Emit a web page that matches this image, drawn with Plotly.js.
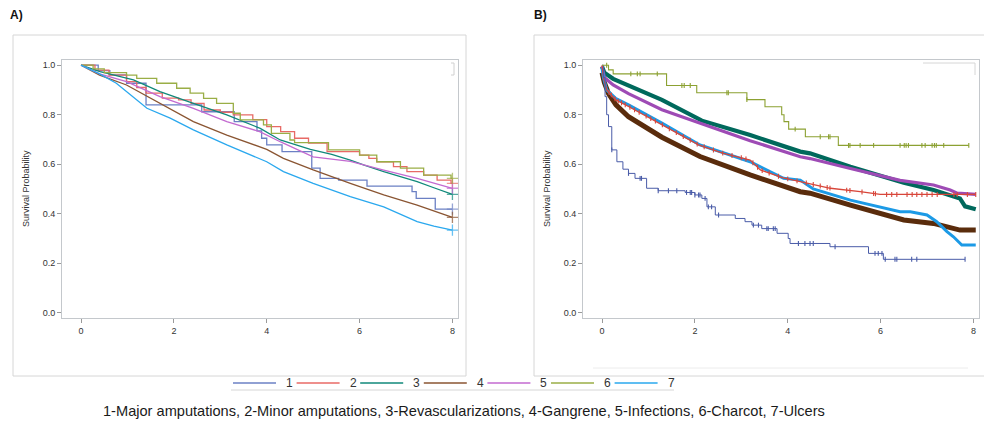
<!DOCTYPE html>
<html><head><meta charset="utf-8">
<script src="https://cdn.plot.ly/plotly-3.0.1.min.js"></script>
<style>html,body{margin:0;padding:0;background:#fff}#chart{width:984px;height:424px}</style>
</head><body><div id="chart"></div>
<script>
// ---------- labels ----------
const groupLabels = ['1','2','3','4','5','6','7'];
const captionText = '1-Major amputations, 2-Minor amputations, 3-Revascularizations, 4-Gangrene, 5-Infections, 6-Charcot, 7-Ulcers';
const panelLabels = ['A)','B)'];
const yAxisLabel = 'Survival Probability';
const xTicks = [0,2,4,6,8];
const yTicks = [0,0.2,0.4,0.6,0.8,1.0];

// ---------- Panel A data (time, survival) ----------
const A1_t = [0,0.37,0.62,0.98,1.40,2.60,3.30,3.79,3.89,4.0,4.33,4.97,5.15,5.55,6.16,7.13,7.22,7.63,8.0];
const A1_s = [1.0,0.978,0.961,0.927,0.84,0.812,0.772,0.735,0.705,0.678,0.651,0.584,0.543,0.536,0.512,0.489,0.462,0.419,0.419];
const A2_t = [0,0.3,0.6,0.98,1.2,1.4,1.75,2.1,2.37,2.65,3.0,3.28,3.7,4.0,4.3,4.6,4.9,5.3,6.0,6.2,6.37,6.73,7.02,7.38,7.67,7.97,8.0];
const A2_s = [1.0,0.98,0.96,0.934,0.91,0.887,0.867,0.86,0.846,0.819,0.81,0.799,0.78,0.752,0.732,0.705,0.685,0.651,0.637,0.624,0.61,0.59,0.57,0.556,0.536,0.523,0.523];
const A3_t = [0,0.41,1.13,1.7,2.42,3.14,3.86,4.29,4.94,5.4,5.8,6.1,6.52,7.24,7.6,8.0];
const A3_s = [1,0.974,0.941,0.893,0.846,0.799,0.745,0.698,0.66,0.64,0.617,0.596,0.57,0.53,0.505,0.478];
const A4_t = [0,0.4,0.98,1.7,2.42,3.14,3.7,4.0,4.36,5.0,5.8,6.52,7.24,8.0];
const A4_s = [1,0.96,0.92,0.846,0.772,0.718,0.68,0.66,0.624,0.577,0.523,0.476,0.435,0.385];
const A5_t = [0,0.4,0.98,1.7,2.42,3.14,3.86,4.3,5.0,5.8,6.5,7.24,8.0];
const A5_s = [1,0.965,0.934,0.873,0.826,0.772,0.731,0.69,0.63,0.612,0.577,0.543,0.503];
const A6_t = [0,0.26,0.5,0.98,1.2,1.63,2.06,2.35,2.64,2.92,3.28,3.43,3.93,4.1,4.5,4.6,5.33,6.0,6.37,6.88,7.38,7.97,8.0];
const A6_s = [1,0.985,0.97,0.96,0.947,0.927,0.907,0.887,0.866,0.846,0.806,0.779,0.759,0.725,0.698,0.687,0.658,0.637,0.61,0.584,0.556,0.543,0.543];
const A7_t = [0,0.4,0.76,0.98,1.42,1.92,2.42,3.14,3.64,4.0,4.36,5.0,5.8,6.52,7.24,7.6,8.0];
const A7_s = [1,0.965,0.927,0.893,0.826,0.786,0.739,0.678,0.64,0.61,0.57,0.523,0.469,0.428,0.368,0.35,0.334];

// ---------- Panel B data (time, survival, censor times) ----------
const B1_t = [0,0.03,0.065,0.1,0.14,0.21,0.32,0.45,0.57,0.71,0.96,1.21,1.79,2.0,2.15,2.26,2.44,2.87,3.08,3.23,3.44,3.77,4.01,4.05,4.91,5.74,6.06,7.82];
const B1_s = [1,0.95,0.873,0.80,0.752,0.658,0.61,0.58,0.563,0.543,0.503,0.493,0.486,0.476,0.462,0.428,0.395,0.381,0.368,0.354,0.34,0.321,0.30,0.28,0.267,0.24,0.216,0.216];
const B1_cens = [0.21,0.57,0.82,0.85,1.21,1.43,1.61,1.82,1.90,1.93,2.0,2.08,2.11,2.22,2.29,2.36,2.51,3.26,3.37,3.55,3.58,3.69,3.73,4.23,4.37,4.48,4.55,5.02,5.88,5.95,6.03,6.10,6.31,6.35,6.67,6.78,7.82];
const B2_t = [0,0.03,0.1,0.3,0.57,1.29,2.08,2.6,3.19,3.41,3.9,4.27,4.92,5.56,5.99,8.05];
const B2_s = [1,0.95,0.9,0.86,0.833,0.76,0.678,0.645,0.617,0.577,0.545,0.53,0.503,0.489,0.478,0.478];
const B2_cens = [0.15,0.2,0.28,0.35,0.42,0.5,0.6,0.7,0.8,0.95,1.05,1.15,1.3,1.45,1.6,1.75,1.9,2.05,2.2,2.4,2.6,2.8,3.0,3.1,3.25,3.35,3.45,3.6,3.8,4.0,4.2,4.4,4.55,4.7,4.85,4.91,5.27,5.34,5.6,5.85,5.89,6.13,6.24,6.35,6.57,6.68,6.78,6.89,7.0,7.11,7.22,7.58,7.65,7.87,8.05];
const B3_t = [0,0.05,0.24,0.57,1.29,2.15,3.19,4.27,4.48,5.35,6.5,7.14,7.5,7.71,7.82,8.05];
const B3_s = [0.995,0.97,0.945,0.918,0.86,0.776,0.718,0.651,0.644,0.59,0.525,0.496,0.476,0.462,0.43,0.418];
const B4_t = [0,0.05,0.14,0.3,0.57,1.29,2.11,3.19,4.27,4.48,5.35,6.5,7.14,7.5,7.71,8.05];
const B4_s = [0.97,0.93,0.885,0.84,0.792,0.709,0.631,0.557,0.489,0.483,0.435,0.375,0.361,0.341,0.334,0.334];
const B5_t = [0,0.05,0.24,0.57,1.29,2.15,3.19,4.27,4.48,5.35,6.42,7.14,7.5,7.65,8.05];
const B5_s = [0.995,0.95,0.92,0.885,0.82,0.762,0.695,0.63,0.623,0.583,0.535,0.516,0.496,0.483,0.478];
const B6_t = [0,0.14,0.24,1.39,2.04,3.12,3.51,3.87,3.92,4.02,4.38,5.09,7.9];
const B6_s = [1,0.981,0.965,0.918,0.889,0.861,0.832,0.8,0.772,0.742,0.711,0.676,0.676];
const B6_cens = [0.1,0.62,0.76,0.82,1.19,1.72,1.77,1.90,2.69,2.72,3.12,4.16,4.70,4.88,4.91,5.31,5.34,5.56,5.85,6.42,6.51,6.55,6.60,6.89,6.96,7.11,7.16,7.20,7.36,7.90];
const B7_t = [0,0.03,0.1,0.3,0.57,1.29,2.11,3.19,3.91,4.27,4.55,5.35,6.42,6.64,7.0,7.21,7.43,7.57,7.75,8.05];
const B7_s = [0.99,0.95,0.9,0.865,0.84,0.766,0.678,0.61,0.543,0.536,0.50,0.455,0.408,0.408,0.395,0.368,0.328,0.307,0.274,0.274];

// ---------- styles ----------
const colorsA = ['#6B80C4','#E86A66','#10897A','#8A5532','#C36AD0','#9AAE46','#2AA8EE'];
const colorsB = ['#4A5CA8','#D8463A','#00695C','#5A2C0C','#9E4BB5','#8CA132','#1C9AE6'];
const seriesA = [[A1_t,A1_s],[A2_t,A2_s],[A3_t,A3_s],[A4_t,A4_s],[A5_t,A5_s],[A6_t,A6_s],[A7_t,A7_s]];
const seriesB = [[B1_t,B1_s],[B2_t,B2_s],[B3_t,B3_s],[B4_t,B4_s],[B5_t,B5_s],[B6_t,B6_s],[B7_t,B7_s]];
const censB = {0:B1_cens, 1:B2_cens, 5:B6_cens};
const stepA = [true,true,false,false,false,true,false];
const stepB = [true,false,false,false,false,true,false];
const widthB = [1,1.3,4.2,5,3.2,1.1,3];
const orderB = [3,2,4,6,1,0,5];

// value of a curve at time x: step lookup for stepped curves, linear interpolation otherwise
function valueAt(t, s, x, stepped){
  if (x <= t[0]) return s[0];
  for (let i = 1; i < t.length; i++) {
    if (x < t[i]) {
      if (stepped) return s[i-1];
      const f = (x - t[i-1]) / (t[i] - t[i-1]);
      return s[i-1] + f * (s[i] - s[i-1]);
    }
  }
  return s[s.length-1];
}

const W = 984, H = 424;
const px = v => v / W, py = v => 1 - v / H;
const font = 'Liberation Sans, Arial, sans-serif';

const traces = [];
seriesA.forEach(([t,s], i) => {
  traces.push({
    x: t, y: s, xaxis: 'x', yaxis: 'y', mode: 'lines+markers', name: groupLabels[i],
    line: {color: colorsA[i], width: 1.3, shape: stepA[i] ? 'hv' : 'linear'},
    marker: {symbol: 'cross-thin', color: colorsA[i], size: t.map((_, j) => j === t.length-1 ? 8 : 0), line: {color: colorsA[i], width: 1.3}},
    hoverinfo: 'skip', showlegend: false
  });
});
orderB.forEach(i => {
  const [t,s] = seriesB[i];
  traces.push({
    x: t, y: s, xaxis: 'x2', yaxis: 'y2', mode: 'lines', name: groupLabels[i],
    line: {color: colorsB[i], width: widthB[i], shape: stepB[i] ? 'hv' : 'linear'},
    hoverinfo: 'skip', showlegend: false
  });
  if (censB[i]) {
    traces.push({
      x: censB[i], y: censB[i].map(c => valueAt(t, s, c, stepB[i])), xaxis: 'x2', yaxis: 'y2', mode: 'markers',
      marker: {symbol: 'line-ns', size: 3.5, color: colorsB[i], line: {color: colorsB[i], width: 1.1}},
      hoverinfo: 'skip', showlegend: false
    });
  }
});

function xa(domain, anchor){
  return {domain, anchor, range: [-0.41, 8.12], tickvals: xTicks, tickformat: 'd',
    showline: true, mirror: true, linecolor: '#c4c8cc', linewidth: 1,
    ticks: 'outside', ticklen: 4, tickcolor: '#9a9a9a',
    tickfont: {family: font, size: 9, color: '#333'}, showgrid: false, zeroline: false};
}
function ya(domain, anchor){
  return {domain, anchor, range: [-0.021, 1.021], tickvals: yTicks, tickformat: '.1f',
    showline: true, mirror: true, linecolor: '#c4c8cc', linewidth: 1,
    ticks: 'outside', ticklen: 4, tickcolor: '#9a9a9a',
    tickfont: {family: font, size: 9, color: '#333'}, showgrid: false, zeroline: false};
}

const shapes = [
  {type:'rect', xref:'paper', yref:'paper', x0:px(13), x1:px(466), y0:py(376), y1:py(35), line:{color:'#d6d6d6', width:1}},
  {type:'rect', xref:'paper', yref:'paper', x0:px(534), x1:px(990), y0:py(376), y1:py(35), line:{color:'#d6d6d6', width:1}},
  {type:'line', xref:'paper', yref:'paper', x0:px(593), x1:px(968), y0:py(368), y1:py(368), line:{color:'#ececec', width:1}},
  {type:'path', xref:'paper', yref:'paper', path:`M${px(451)},${py(63)} L${px(454)},${py(63)} L${px(454)},${py(75)} L${px(451)},${py(75)}`, line:{color:'#d0d0d0', width:1}},
  {type:'path', xref:'paper', yref:'paper', path:`M${px(923)},${py(63)} L${px(975)},${py(63)} L${px(975)},${py(75)}`, line:{color:'#d6d6d6', width:1}},
  {type:'line', xref:'paper', yref:'paper', x0:px(231), x1:px(674), y0:py(390), y1:py(390), line:{color:'#d6d6d6', width:1}}
];
const annotations = [
  {text:'<b>'+panelLabels[0]+'</b>', xref:'paper', yref:'paper', x:px(8), y:py(15), xanchor:'left', yanchor:'middle', showarrow:false, font:{family:font, size:12, color:'#111'}},
  {text:'<b>'+panelLabels[1]+'</b>', xref:'paper', yref:'paper', x:px(532), y:py(15), xanchor:'left', yanchor:'middle', showarrow:false, font:{family:font, size:12, color:'#111'}},
  {text:yAxisLabel, xref:'paper', yref:'paper', x:px(26), y:py(189), textangle:-90, xanchor:'center', yanchor:'middle', showarrow:false, font:{family:font, size:9, color:'#333'}},
  {text:yAxisLabel, xref:'paper', yref:'paper', x:px(547), y:py(189), textangle:-90, xanchor:'center', yanchor:'middle', showarrow:false, font:{family:font, size:9, color:'#333'}},
  {text:captionText, xref:'paper', yref:'paper', x:px(464), y:py(411), xanchor:'center', yanchor:'middle', showarrow:false, font:{family:font, size:14.6, color:'#1a1a1a'}}
];
groupLabels.forEach((lab, i) => {
  const x0 = 233 + 63.6*i;
  shapes.push({type:'line', xref:'paper', yref:'paper', x0:px(x0), x1:px(x0+43), y0:py(383), y1:py(383), line:{color:colorsA[i], width:1.5}});
  annotations.push({text:lab, xref:'paper', yref:'paper', x:px(x0+51), y:py(383), xanchor:'left', yanchor:'middle', showarrow:false, font:{family:font, size:12, color:'#333'}});
});

const layout = {
  width: W, height: H, margin: {l:0, r:0, t:0, b:0},
  paper_bgcolor: '#fff', plot_bgcolor: '#fff', showlegend: false,
  font: {family: font},
  xaxis: xa([px(62), px(458)], 'y'),
  yaxis: ya([py(318), py(60)], 'x'),
  xaxis2: xa([px(583), px(979)], 'y2'),
  yaxis2: ya([py(318), py(60)], 'x2'),
  shapes, annotations
};
Plotly.newPlot('chart', traces, layout, {staticPlot: true, displayModeBar: false});
</script>
</body></html>
